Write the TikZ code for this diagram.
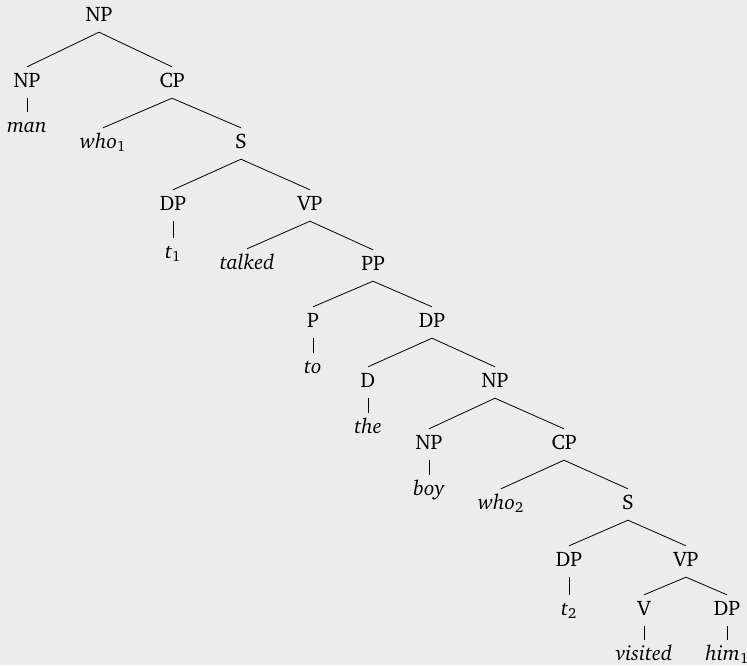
\documentclass[tikz,border=0pt]{standalone}
\usepackage[T1]{fontenc}
\usepackage{charter}
\newcommand{\sbs}[1]{\textsubscript{\upshape #1}}
\begin{document}
\begin{tikzpicture}[x=1pt,y=-1pt,
  lab/.style={font=\fontsize{21}{25}\selectfont, text height=14pt, text depth=5pt,
    inner ysep=6pt, inner xsep=0pt, anchor=base},
  wd/.style={lab, font=\fontsize{21}{25}\selectfont\itshape},
  br/.style={line width=0.8pt, black}]
\fill[fill={rgb,255:red,236;green,236;blue,236}] (0,0) rectangle (747,665);
\useasboundingbox (0,0) rectangle (747,665);
\node[lab] (np0) at (99,21) {NP};
\node[lab] (np1) at (27,87) {NP};
\node[lab] (cp1) at (172,87) {CP};
\node[wd] (man) at (27,132) {man};
\node[wd] (who1) at (103,148) {who\sbs{1}};
\node[lab] (s1) at (241,148) {S};
\node[lab] (dp1) at (173,210) {DP};
\node[lab] (vp1) at (310,210) {VP};
\node[wd] (t1) at (173,258) {t\sbs{1}};
\node[wd] (talked) at (247,269) {talked};
\node[lab] (pp) at (373,270) {PP};
\node[lab] (p) at (313,327) {P};
\node[lab] (dp2) at (432,327) {DP};
\node[wd] (to) at (313,373) {to};
\node[lab] (d) at (368,387) {D};
\node[lab] (np2) at (495,387) {NP};
\node[wd] (the) at (368,433) {the};
\node[lab] (np3) at (429,449) {NP};
\node[lab] (cp2) at (564,449) {CP};
\node[wd] (boy) at (429,495) {boy};
\node[wd] (who2) at (501,509) {who\sbs{2}};
\node[lab] (s2) at (628,509) {S};
\node[lab] (dp3) at (569,566) {DP};
\node[lab] (vp2) at (686,566) {VP};
\node[wd] (t2) at (569,615) {t\sbs{2}};
\node[lab] (v) at (644,615) {V};
\node[lab] (dp4) at (727,615) {DP};
\node[wd] (visited) at (644,660) {visited};
\node[wd] (him1) at (727,660) {him\sbs{1}};
\foreach \a/\b in {np0/np1,np0/cp1,np1/man,cp1/who1,cp1/s1,s1/dp1,s1/vp1,dp1/t1,
  vp1/talked,vp1/pp,pp/p,pp/dp2,p/to,dp2/d,dp2/np2,d/the,np2/np3,np2/cp2,np3/boy,
  cp2/who2,cp2/s2,s2/dp3,s2/vp2,dp3/t2,vp2/v,vp2/dp4,v/visited,dp4/him1}
  \draw[br] (\a.south) -- (\b.north);
\end{tikzpicture}
\end{document}
